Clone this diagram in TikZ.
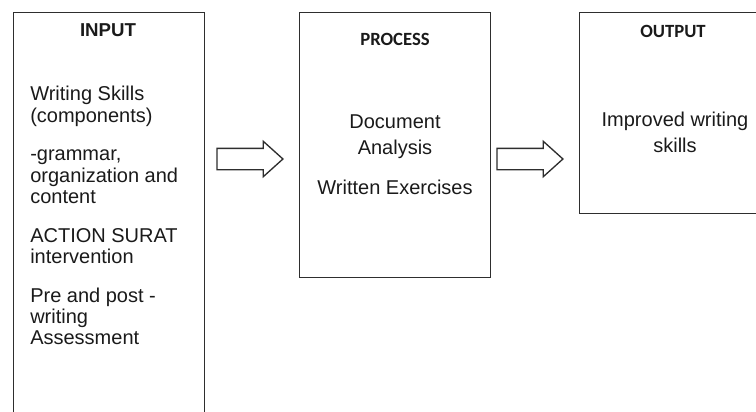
\documentclass[tikz,border=0pt]{standalone}
\usepackage{fontspec}
\setmainfont{Liberation Sans}
\newfontfamily\headfont{Carlito}
\usetikzlibrary{shapes.arrows, positioning}
\definecolor{framegray}{HTML}{2E2E2E}
\definecolor{textdark}{HTML}{1A1A1A}

\begin{document}
\begin{tikzpicture}[x=0.75pt, y=-0.75pt,
  panel/.style={rectangle, draw=framegray, line width=1.1pt, anchor=north west, minimum width=143.25pt, inner sep=0pt},
  inputtitle/.style={font=\bfseries\fontsize{14}{16}\selectfont, text=textdark, inner sep=0pt},
  headtitle/.style={font=\headfont\bfseries\fontsize{14}{16}\selectfont, text=textdark, inner sep=0pt},
  body/.style={font=\fontsize{15}{16.1}\selectfont, text=textdark, inner sep=0pt},
  flow/.style={single arrow, draw=framegray, line width=1pt, fill=white, minimum height=49.5pt, inner xsep=0pt, inner ysep=7.5pt, single arrow head extend=5.25pt, single arrow tip angle=84, single arrow head indent=0pt}
]
  \useasboundingbox (0,0) rectangle (756,411);
  \clip (0,0) rectangle (756,411);

  % Boxes
  \node[panel, minimum height=313.5pt] (input) at (13,12) {};
  \node[panel, minimum height=198.75pt] (process) at (299,12) {};
  \node[panel, minimum height=150.75pt] (output) at (579,12) {};

  % Titles
  \node[inputtitle] (inputhead) at (108,30) {INPUT};
  \node[headtitle] (processhead) at (395,39) {PROCESS};
  \node[headtitle] (outputhead) at (673,31) {OUTPUT};

  % Contents
  \node[body, anchor=north west, align=left] (inputtxt) at (30,86)
    {Writing Skills\\(components)\\[12.75pt]-grammar,\\organization and\\content\\[12.75pt]ACTION SURAT\\intervention\\[12.75pt]Pre and post -\\writing\\Assessment};
  \node[body, anchor=north, align=center, font=\fontsize{15}{19.5}\selectfont] (processtxt) at (395,114)
    {Document\\Analysis\\[10.5pt]Written Exercises};
  \node[body, anchor=north, align=center, font=\fontsize{15}{19.5}\selectfont] (outputtxt) at (675,112)
    {Improved writing\\skills};

  % Arrows
  \node[flow] (arr1) at (244,159) {};
  \node[flow] (arr2) at (524,159) {};
\end{tikzpicture}
\end{document}
